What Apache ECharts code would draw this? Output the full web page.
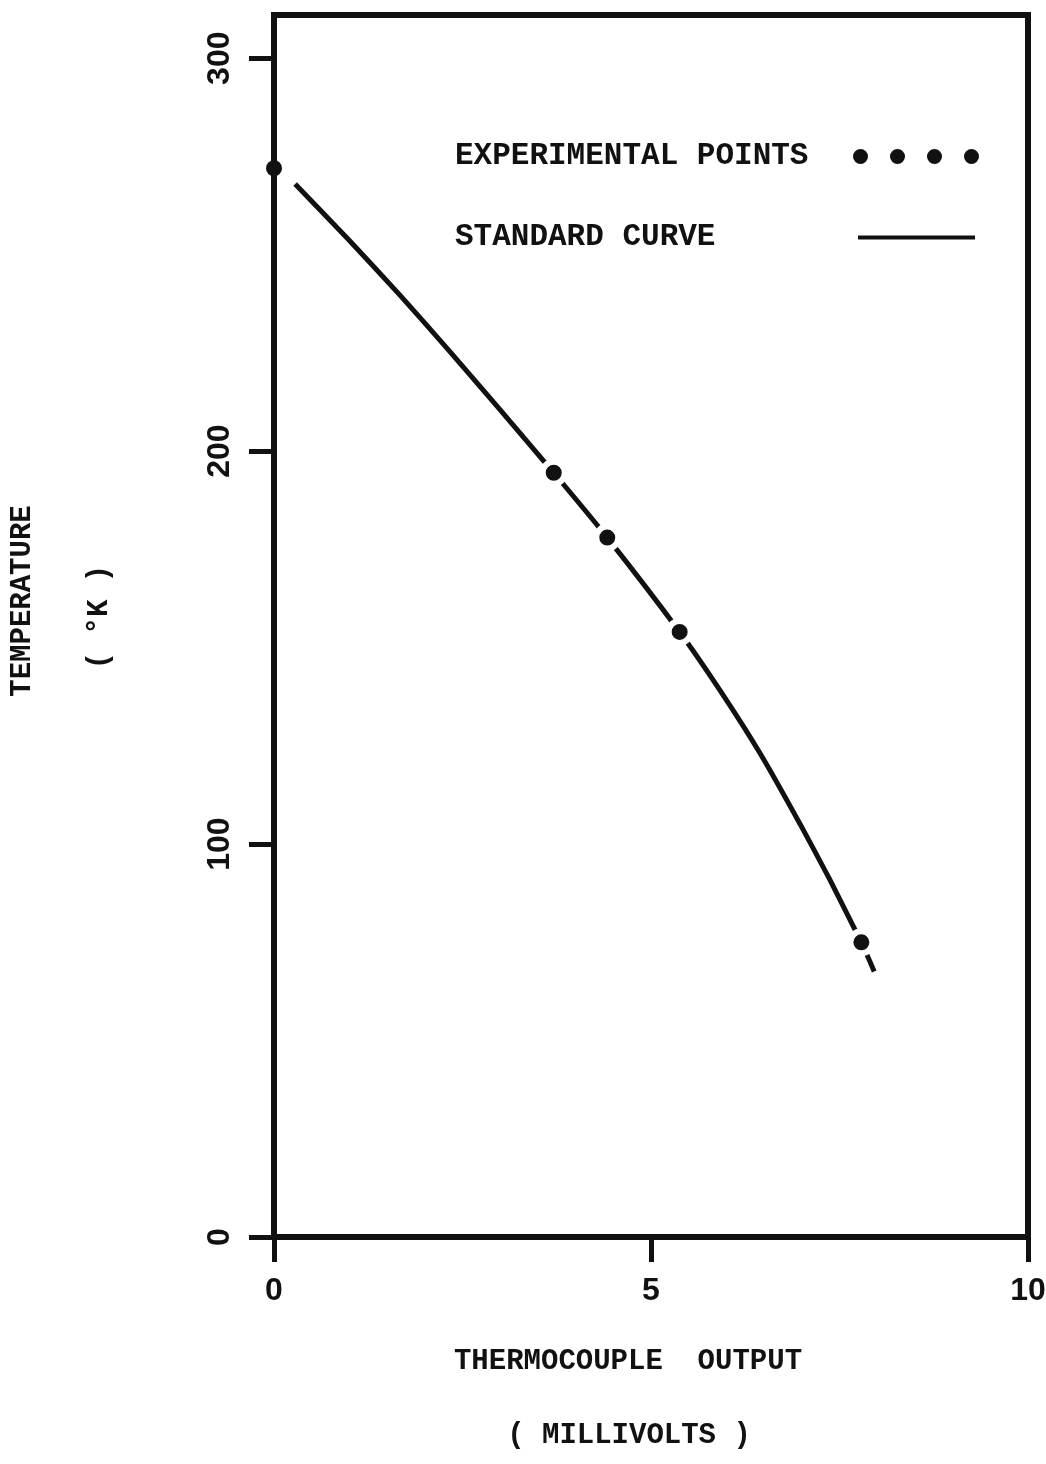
<!DOCTYPE html>
<html><head><meta charset="utf-8">
<script src="https://cdn.jsdelivr.net/npm/echarts@6/dist/echarts.min.js"></script>
<style>html,body{margin:0;padding:0;background:#fff}#c{width:1046px;height:1464px}</style>
</head><body><div id="c"></div>
<script>
// ---- data ----
const xTicks = [0, 5, 10];
const yTicks = [0, 100, 200, 300];
const pointsX = [0, 3.71, 4.42, 5.38, 7.79];
const pointsY = [272, 194.5, 178, 154, 75];
const curveX = [0.28, 1.0, 1.67, 2.33, 3.0, 3.71, 4.42, 5.38, 5.92, 6.45, 6.98, 7.37, 7.68, 7.79, 7.96];
const curveY = [268, 253.6, 239.7, 225.4, 210.5, 194.5, 178, 154, 139, 123, 105, 91, 79.2, 75, 67.6];
const xTitle = ['THERMOCOUPLE  OUTPUT', '( MILLIVOLTS )'];
const yTitle = ['TEMPERATURE', '( \u00B0K )'];
const legendNames = ['EXPERIMENTAL POINTS', 'STANDARD CURVE'];

const INK = '#111';
const FONT_T = '"Liberation Mono", "DejaVu Sans Mono", monospace';
const FONT_N = '"Liberation Sans", "DejaVu Sans", sans-serif';

const dotsIcon = 'path://M0,7.5a7.5,7.5 0 1,0 15,0a7.5,7.5 0 1,0 -15,0Z M37,7.5a7.5,7.5 0 1,0 15,0a7.5,7.5 0 1,0 -15,0Z M74,7.5a7.5,7.5 0 1,0 15,0a7.5,7.5 0 1,0 -15,0Z M111,7.5a7.5,7.5 0 1,0 15,0a7.5,7.5 0 1,0 -15,0Z';

function legendFor(name, icon, w, h, top, boxW) {
  return {
    data: [{ name: name, icon: icon }],
    left: 455, top: top, padding: 0,
    align: 'right', orient: 'vertical',
    itemWidth: w, itemHeight: h,
    selectedMode: false,
    itemStyle: { borderWidth: 0 },
    formatter: n => '{t|' + n + '}',
    textStyle: {
      color: INK, fontFamily: FONT_T, fontWeight: 'bold', fontSize: 31,
      rich: { t: { width: boxW, align: 'left', color: INK, fontFamily: FONT_T, fontWeight: 'bold', fontSize: 31, lineHeight: 32 } }
    }
  };
}

const axisLine = { show: true, onZero: false, lineStyle: { color: INK, width: 6, cap: 'square' } };
const axisTick = { show: true, inside: false, length: 25, lineStyle: { color: INK, width: 5 } };

const chart = echarts.init(document.getElementById('c'));
chart.setOption({
  backgroundColor: '#fff',
  animation: false,
  grid: { left: 274, right: 18, top: 15, bottom: 227, show: true, borderColor: INK, borderWidth: 6,
          backgroundColor: 'transparent', outerBoundsMode: 'none' },
  xAxis: {
    type: 'value', min: 0, max: 10, interval: 5,
    axisLine: axisLine,
    axisTick: Object.assign({}, axisTick, { customValues: xTicks }),
    axisLabel: { margin: 38, fontSize: 32, fontWeight: 'bold', fontFamily: FONT_N, color: INK, customValues: xTicks },
    splitLine: { show: false }
  },
  yAxis: {
    type: 'value', min: 0, max: 311,
    axisLine: axisLine,
    axisTick: Object.assign({}, axisTick, { customValues: yTicks }),
    axisLabel: { rotate: 90, margin: 38, fontSize: 32, fontWeight: 'bold', fontFamily: FONT_N, color: INK, customValues: yTicks },
    splitLine: { show: false }
  },
  legend: [
    legendFor(legendNames[0], dotsIcon, 126, 15, 141, 393),
    legendFor(legendNames[1], 'rect', 117, 4, 222, 398)
  ],
  series: [
    {
      type: 'line', name: legendNames[1],
      data: curveX.map((x, i) => [x, curveY[i]]),
      smooth: 0.2, symbol: 'none',
      lineStyle: { color: INK, width: 5 }, itemStyle: { color: INK },
      z: 2, silent: true
    },
    {
      type: 'scatter', name: legendNames[0],
      data: pointsX.map((x, i) => x === 0
        ? { value: [x, pointsY[i]], symbolSize: 16, itemStyle: { borderWidth: 0 } }
        : [x, pointsY[i]]),
      symbolSize: 22,
      itemStyle: { color: INK, borderColor: '#fff', borderWidth: 6, opacity: 1 },
      z: 3, silent: true
    }
  ],
  graphic: [
    { type: 'text', x: 628, y: 1362, style: { text: xTitle[0], fill: INK, fontFamily: FONT_T, fontWeight: 'bold', fontSize: 29, align: 'center', verticalAlign: 'middle' } },
    { type: 'text', x: 629, y: 1436, style: { text: xTitle[1], fill: INK, fontFamily: FONT_T, fontWeight: 'bold', fontSize: 29, align: 'center', verticalAlign: 'middle' } },
    { type: 'text', x: 23, y: 601, rotation: Math.PI / 2, style: { text: yTitle[0], fill: INK, fontFamily: FONT_T, fontWeight: 'bold', fontSize: 29, align: 'center', verticalAlign: 'middle' } },
    { type: 'text', x: 100, y: 617, rotation: Math.PI / 2, style: { text: yTitle[1], fill: INK, fontFamily: FONT_T, fontWeight: 'bold', fontSize: 29, align: 'center', verticalAlign: 'middle' } }
  ]
});
</script></body></html>
